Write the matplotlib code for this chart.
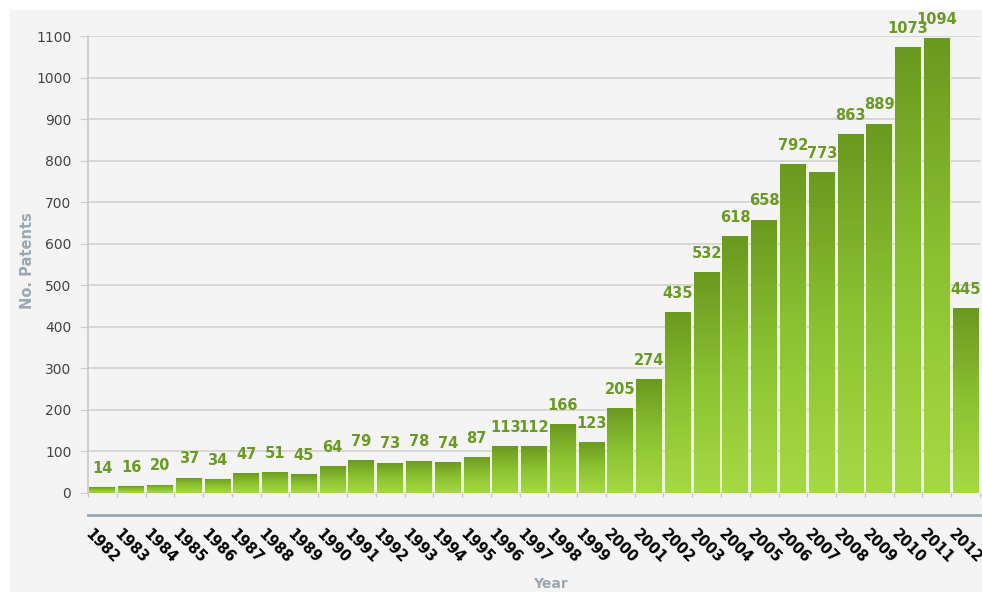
import matplotlib
matplotlib.use("Agg")
import matplotlib.pyplot as plt
import numpy as np
from matplotlib.colors import LinearSegmentedColormap
from matplotlib.patches import Rectangle

YEARS = [str(y) for y in range(1982, 2013)]
PATENTS = [14, 16, 20, 37, 34, 47, 51, 45, 64, 79, 73, 78, 74, 87, 113, 112,
           166, 123, 205, 274, 435, 532, 618, 658, 792, 773, 863, 889, 1073,
           1094, 445]

BG = "#f4f4f4"
LABEL_GREEN = "#6b9a24"
AXIS_TITLE = "#9aa8b2"


def main():
    fig = plt.figure(figsize=(9.82, 5.92), dpi=100)
    fig.patch.set_facecolor("white")
    fig.patches.append(Rectangle((10 / 982, 0), 1, 582 / 592, transform=fig.transFigure,
                                 facecolor=BG, edgecolor="none", zorder=-10))

    ax = fig.add_axes([88 / 982, 99 / 592, 892 / 982, 457 / 592])
    ax.set_facecolor(BG)

    x = np.arange(len(YEARS))
    bars = ax.bar(x, PATENTS, width=0.9, color="#86b830", edgecolor="#e6f2c0",
                  linewidth=1.0, zorder=3)

    # vertical gradient inside each bar, dark top to light bottom
    cmap = LinearSegmentedColormap.from_list("grn", ["#a6d944", "#8cc232", "#6a991f"])
    grad = np.linspace(0, 1, 256).reshape(-1, 1)
    for b in bars:
        x0, y0 = b.get_x(), b.get_y()
        w, h = b.get_width(), b.get_height()
        im = ax.imshow(grad, cmap=cmap, origin="lower", aspect="auto",
                       extent=[x0, x0 + w, y0, y0 + h], zorder=3.5)
        im.set_clip_path(b)

    for xi, v in zip(x, PATENTS):
        ax.annotate(str(v), (xi, v), xytext=(0, 13.5), textcoords="offset points",
                    ha="center", va="center", fontsize=10.5, fontweight="bold",
                    color=LABEL_GREEN, zorder=5, annotation_clip=False)

    ax.set_xlim(-0.5, len(YEARS) - 0.5)
    ax.set_ylim(0, 1100)
    ax.set_yticks(range(0, 1101, 100))
    ax.grid(axis="y", color="#d2d2d2", linewidth=1.2, zorder=0)
    ax.tick_params(axis="y", length=6, color="#cccccc", labelsize=10,
                   labelcolor="#444444", pad=6)

    for s in ["top", "right", "bottom"]:
        ax.spines[s].set_visible(False)
    ax.spines["left"].set_color("#c8c8c8")
    ax.spines["left"].set_linewidth(1.2)

    # small marks at bar boundaries below the zero line
    ax.vlines(np.arange(len(YEARS) + 1) - 0.5, -10, 0, colors="#c8c8c8",
              linewidth=1, clip_on=False)
    ax.axhline(-53, color="#92a6b0", linewidth=2, clip_on=False)

    ax.set_xticks(x)
    ax.set_xticklabels(YEARS, rotation=-45, ha="center", va="center",
                       rotation_mode="anchor", fontsize=10.5, fontweight="bold")
    ax.tick_params(axis="x", length=0, pad=38)

    fig.text(28 / 982, 1 - 261 / 592, "No. Patents", rotation=90, ha="center",
             va="center", fontsize=10.5, fontweight="bold", color=AXIS_TITLE)
    fig.text(550 / 982, 1 - 584 / 592, "Year", ha="center", va="center",
             fontsize=10, fontweight="bold", color=AXIS_TITLE)

    fig.savefig("out.png", dpi=100, facecolor=fig.get_facecolor())


if __name__ == "__main__":
    main()
